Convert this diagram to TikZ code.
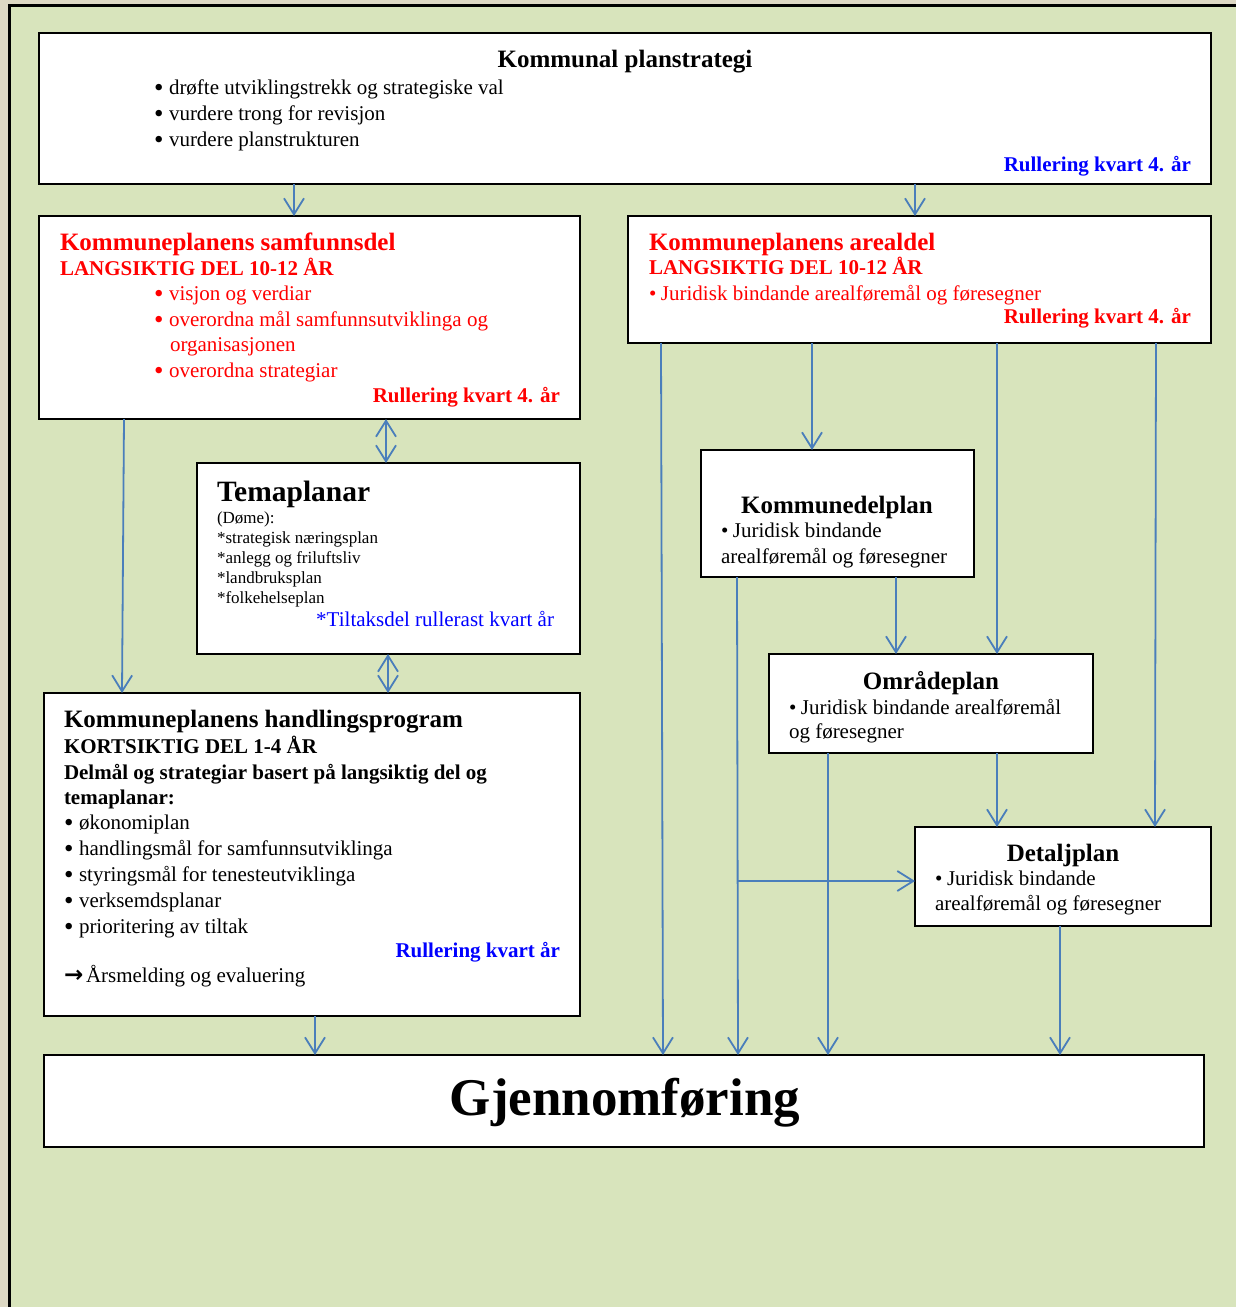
\documentclass[tikz,border=0pt]{standalone}
\usepackage{fontspec}
\setmainfont{Liberation Serif}
\newfontfamily\symfam{DejaVu Sans}
\usetikzlibrary{arrows.meta}
\definecolor{bgbeige}{HTML}{DDD8C4}
\definecolor{bggreen}{HTML}{D8E4BC}
\definecolor{arrowblue}{HTML}{4A7EBB}
\definecolor{txtblue}{HTML}{0000FF}
\definecolor{txtred}{HTML}{FF0000}
\newcommand{\mybul}{\makebox[15pt][l]{\raisebox{-0.1em}{\fontsize{27}{26}\selectfont •}}}
\newcommand{\smbul}{\makebox[12pt][l]{•}}
\newcommand{\myarrow}{\makebox[22pt][l]{\symfam\bfseries\fontsize{23}{26}\selectfont →}}
\begin{document}
\begin{tikzpicture}[x=1pt,y=-1pt,
  box/.style={draw=black, line width=1.3pt, fill=white, rectangle, inner sep=0pt, outer sep=0pt, anchor=north west},
  txt/.style={inner sep=0pt, outer sep=0pt, font=\fontsize{21}{26}\selectfont},
  ttl/.style={inner sep=0pt, outer sep=0pt, font=\fontsize{25}{29}\selectfont\bfseries},
  sub/.style={inner sep=0pt, outer sep=0pt, font=\fontsize{21}{26}\selectfont\bfseries},
  small/.style={inner sep=0pt, outer sep=0pt, font=\fontsize{17}{20}\selectfont},
  big/.style={inner sep=0pt, outer sep=0pt, font=\fontsize{53}{60}\selectfont\bfseries},
  arr/.style={draw=arrowblue, line width=1.8pt, -{Straight Barb[length=16pt,width=20pt]}},
  darr/.style={draw=arrowblue, line width=1.8pt, {Straight Barb[length=16pt,width=20pt]}-{Straight Barb[length=16pt,width=20pt]}},
]
\useasboundingbox (0,0) rectangle (1236,1307);
\fill[bgbeige] (0,0) rectangle (1236,1307);
\fill[bggreen] (9,5) rectangle (1236,1307);
\draw[black, line width=2.5pt] (9.5,1307) -- (9.5,5.5) -- (1236,5.5);

% boxes
\node[box, minimum width=1172pt, minimum height=151pt] (plan) at (39,33) {};
\node[box, minimum width=541pt, minimum height=203pt] (samf) at (39,216) {};
\node[box, minimum width=583pt, minimum height=127pt] (areal) at (628,216) {};
\node[box, minimum width=383pt, minimum height=191pt] (tema) at (197,463) {};
\node[box, minimum width=273pt, minimum height=127pt] (kdp) at (701,450) {};
\node[box, minimum width=324pt, minimum height=99pt] (omr) at (769,654) {};
\node[box, minimum width=296pt, minimum height=99pt] (det) at (915,827) {};
\node[box, minimum width=536pt, minimum height=323pt] (hand) at (44,693) {};
\node[box, minimum width=1160pt, minimum height=92pt] (gj) at (44,1055) {};

% planstrategi
\node[ttl, anchor=base] (p0) at (625,67) {Kommunal planstrategi};
\node[txt, anchor=base west] (p1) at (154,94) {\mybul drøfte utviklingstrekk og strategiske val};
\node[txt, anchor=base west] (p2) at (154,120) {\mybul vurdere trong for revisjon};
\node[txt, anchor=base west] (p3) at (154,146) {\mybul vurdere planstrukturen};
\node[sub, anchor=base east, text=txtblue] (p4) at (1191,171) {Rullering kvart 4. år};

% samfunnsdel
\node[ttl, anchor=base west, text=txtred] (s0) at (60,250) {Kommuneplanens samfunnsdel};
\node[sub, anchor=base west, text=txtred] (s1) at (60,275) {LANGSIKTIG DEL 10-12 ÅR};
\node[txt, anchor=base west, text=txtred] (s2) at (154,300) {\mybul visjon og verdiar};
\node[txt, anchor=base west, text=txtred] (s3) at (154,326) {\mybul overordna mål samfunnsutviklinga og};
\node[txt, anchor=base west, text=txtred] (s4) at (170,351) {organisasjonen};
\node[txt, anchor=base west, text=txtred] (s5) at (154,377) {\mybul overordna strategiar};
\node[sub, anchor=base east, text=txtred] (s6) at (560,402) {Rullering kvart 4. år};

% arealdel
\node[ttl, anchor=base west, text=txtred] (a0) at (649,250) {Kommuneplanens arealdel};
\node[sub, anchor=base west, text=txtred] (a1) at (649,274) {LANGSIKTIG DEL 10-12 ÅR};
\node[txt, anchor=base west, text=txtred] (a2) at (649,300) {\smbul Juridisk bindande arealføremål og føresegner};
\node[sub, anchor=base east, text=txtred] (a3) at (1191,323) {Rullering kvart 4. år};

% temaplanar
\node[inner sep=0pt, font=\fontsize{29.5}{33}\selectfont\bfseries, anchor=base west] (t0) at (217,501) {Temaplanar};
\node[small, anchor=base west] (t1) at (217,523) {(Døme):};
\node[small, anchor=base west] (t2) at (217,543) {*strategisk næringsplan};
\node[small, anchor=base west] (t3) at (217,563) {*anlegg og friluftsliv};
\node[small, anchor=base west] (t4) at (217,583) {*landbruksplan};
\node[small, anchor=base west] (t5) at (217,603) {*folkehelseplan};
\node[txt, anchor=base east, text=txtblue] (t6) at (554,626) {*Tiltaksdel rullerast kvart år};

% kommunedelplan
\node[ttl, anchor=base] (k0) at (837,513) {Kommunedelplan};
\node[txt, anchor=base west] (k1) at (721,537) {\smbul Juridisk bindande};
\node[txt, anchor=base west] (k2) at (721,563) {arealføremål og føresegner};

% omradeplan
\node[ttl, anchor=base] (o0) at (931,689) {Områdeplan};
\node[txt, anchor=base west] (o1) at (789,714) {\smbul Juridisk bindande arealføremål};
\node[txt, anchor=base west] (o2) at (789,738) {og føresegner};

% detaljplan
\node[ttl, anchor=base] (d0) at (1063,861) {Detaljplan};
\node[txt, anchor=base west] (d1) at (935,885) {\smbul Juridisk bindande};
\node[txt, anchor=base west] (d2) at (935,910) {arealføremål og føresegner};

% handlingsprogram
\node[ttl, anchor=base west] (h0) at (64,727) {Kommuneplanens handlingsprogram};
\node[sub, anchor=base west] (h1) at (64,753) {KORTSIKTIG DEL 1-4 ÅR};
\node[sub, anchor=base west] (h2) at (64,779) {Delmål og strategiar basert på langsiktig del og};
\node[sub, anchor=base west] (h3) at (64,804) {temaplanar:};
\node[txt, anchor=base west] (h4) at (64,829) {\mybul økonomiplan};
\node[txt, anchor=base west] (h5) at (64,855) {\mybul handlingsmål for samfunnsutviklinga};
\node[txt, anchor=base west] (h6) at (64,881) {\mybul styringsmål for tenesteutviklinga};
\node[txt, anchor=base west] (h7) at (64,907) {\mybul verksemdsplanar};
\node[txt, anchor=base west] (h8) at (64,933) {\mybul prioritering av tiltak};
\node[sub, anchor=base east, text=txtblue] (h9) at (560,957) {Rullering kvart år};
\node[txt, anchor=base west] (h10) at (64,982) {\myarrow Årsmelding og evaluering};

% gjennomforing
\node[big, anchor=base] (g0) at (625,1115) {Gjennomføring};

% arrows
\draw[arr] ([xshift=255pt]plan.south west) -- ([xshift=255pt]samf.north west);
\draw[arr] ([xshift=876pt]plan.south west) -- ([xshift=287pt]areal.north west);
\draw[darr] ([xshift=347pt]samf.south west) -- ([xshift=189pt]tema.north west);
\draw[arr] ([xshift=85pt]samf.south west) -- ([xshift=78pt]hand.north west);
\draw[darr] ([xshift=191pt]tema.south west) -- ([xshift=344pt]hand.north west);
\draw[arr] ([xshift=33pt]areal.south west) -- ([xshift=619pt]gj.north west);
\draw[arr] ([xshift=184pt]areal.south west) -- ([xshift=111pt]kdp.north west);
\draw[arr] ([xshift=369pt]areal.south west) -- ([xshift=228pt]omr.north west);
\draw[arr] ([xshift=528pt]areal.south west) -- ([xshift=240pt]det.north west);
\draw[arr] ([xshift=195pt]kdp.south west) -- ([xshift=127pt]omr.north west);
\draw[arr] ([xshift=36pt]kdp.south west) -- ([xshift=694pt]gj.north west);
\coordinate (br) at (737.4,881);
\draw[arr] (br) -- (br -| det.west);
\draw[arr] ([xshift=59pt]omr.south west) -- ([xshift=784pt]gj.north west);
\draw[arr] ([xshift=228pt]omr.south west) -- ([xshift=82pt]det.north west);
\draw[arr] ([xshift=145pt]det.south west) -- ([xshift=1016pt]gj.north west);
\draw[arr] ([xshift=271pt]hand.south west) -- ([xshift=271pt]gj.north west);
\end{tikzpicture}
\end{document}
